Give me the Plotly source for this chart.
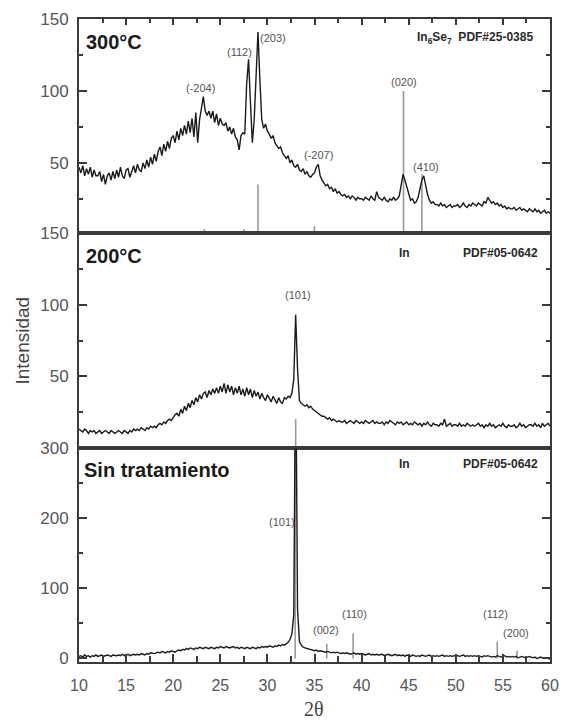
import numpy as np
import plotly.graph_objects as go

# 2-theta sampling grid: 10.0 .. 60.0 step 0.2
two_theta = [round(10 + 0.2 * i, 1) for i in range(251)]

# 300 °C pattern
y_300 = [
    47, 43, 48, 41, 46, 42, 47, 40, 45, 41,
    41, 44, 37, 42, 35, 41, 43, 38, 44, 39,
    45, 40, 47, 41, 39, 45, 46, 40, 44, 48,
    43, 49, 45, 44, 50, 46, 52, 47, 54, 49,
    56, 51, 58, 61, 55, 63, 58, 65, 60, 67,
    69, 64, 72, 66, 74, 69, 76, 70, 79, 71,
    81, 68, 85, 64, 80, 88, 96, 86, 83, 86,
    81, 86, 78, 84, 76, 81, 77, 76, 78, 72,
    75, 70, 74, 68, 66, 59, 69, 71, 70, 105,
    122, 92, 64, 80, 118, 141, 108, 80, 74, 77,
    72, 70, 67, 69, 64, 62, 60, 61, 57, 55,
    53, 55, 50, 52, 48, 47, 49, 45, 44, 46,
    42, 44, 41, 40, 42, 43, 47, 49, 41, 38,
    36, 34, 35, 32, 33, 30, 32, 29, 30, 28,
    27, 28, 26, 27, 25, 27, 26, 24, 26, 25,
    25, 24, 26, 25, 24, 27, 25, 24, 30, 26,
    25, 24, 26, 24, 23, 25, 24, 26, 24, 25,
    27, 34, 42, 38, 33, 28, 24, 25, 22, 23,
    26, 32, 38, 41, 34, 28, 24, 22, 23, 21,
    21, 20, 22, 20, 21, 19, 20, 21, 19, 20,
    20, 21, 19, 20, 22, 20, 19, 21, 20, 22,
    21, 20, 22, 21, 20, 23, 22, 26, 24, 22,
    23, 21, 22, 20, 21, 19, 20, 18, 19, 18,
    18, 19, 17, 18, 19, 17, 18, 17, 16, 18,
    17, 16, 18, 16, 17, 15, 16, 17, 15, 16,
    15,
]

# 200 °C pattern
y_200 = [
    13, 12, 11, 13, 12, 10, 12, 11, 12, 10,
    11, 12, 10, 11, 12, 11, 10, 12, 11, 10,
    11, 12, 11, 10, 12, 11, 10, 12, 11, 13,
    12, 13, 12, 14, 13, 12, 14, 13, 15, 14,
    15, 14, 16, 17, 16, 18, 17, 19, 20, 19,
    21, 23, 24, 22, 27, 24, 29, 26, 31, 28,
    33, 30, 35, 32, 37, 34, 38, 39, 35, 40,
    37, 41, 38, 42, 38, 43, 39, 45, 38, 44,
    39, 43, 37, 42, 38, 43, 37, 41, 36, 42,
    37, 41, 35, 40, 36, 39, 34, 38, 35, 33,
    37, 34, 32, 36, 33, 31, 35, 32, 31, 35,
    34, 36, 35, 38, 48, 93, 55, 33, 31, 30,
    29, 30, 28, 29, 27, 26, 25, 24, 23, 22,
    22, 21, 20, 21, 19, 20, 19, 18, 19, 18,
    18, 19, 17, 18, 19, 18, 17, 19, 18, 17,
    18, 17, 19, 18, 17, 18, 19, 17, 18, 17,
    17, 18, 16, 18, 17, 19, 18, 17, 16, 18,
    17, 18, 16, 17, 18, 16, 17, 16, 18, 17,
    16, 17, 15, 17, 16, 18, 16, 15, 17, 16,
    16, 15, 17, 16, 20, 15, 16, 17, 15, 16,
    16, 15, 17, 15, 16, 15, 17, 16, 15, 16,
    15, 16, 17, 15, 16, 14, 16, 15, 17, 15,
    16, 14, 15, 16, 15, 17, 15, 14, 16, 15,
    15, 16, 14, 15, 17, 15, 16, 14, 15, 16,
    16, 15, 17, 15, 16, 14, 17, 15, 16, 17,
    15,
]

# untreated pattern
y_sin = [
    3, 4, 2, 5, 3, 4, 2, 4, 3, 5,
    3, 4, 5, 3, 4, 5, 4, 3, 5, 4,
    4, 5, 4, 6, 4, 5, 6, 4, 5, 6,
    5, 6, 5, 7, 6, 5, 7, 6, 8, 7,
    7, 8, 9, 8, 10, 9, 8, 10, 9, 11,
    10, 9, 11, 12, 11, 13, 12, 14, 13, 15,
    14, 13, 15, 14, 16, 15, 14, 16, 15, 14,
    16, 15, 14, 16, 15, 17, 16, 15, 17, 16,
    15, 16, 17, 15, 16, 14, 16, 15, 14, 16,
    15, 14, 16, 15, 14, 16, 15, 17, 16, 17,
    16, 18, 17, 16, 18, 17, 19, 18, 20, 19,
    21, 23, 27, 35, 62, 450, 70, 24, 19, 16,
    15, 14, 13, 12, 12, 11, 12, 10, 11, 10,
    10, 9, 10, 9, 8, 9, 8, 9, 8, 7,
    8, 7, 8, 7, 6, 7, 8, 6, 7, 6,
    7, 6, 5, 6, 7, 5, 6, 5, 6, 5,
    5, 6, 4, 5, 6, 5, 4, 5, 6, 4,
    5, 4, 5, 3, 5, 4, 3, 5, 4, 3,
    4, 3, 5, 4, 3, 4, 5, 3, 4, 3,
    4, 3, 4, 5, 3, 4, 3, 4, 3, 4,
    3, 4, 3, 4, 5, 3, 4, 3, 4, 3,
    4, 3, 4, 3, 2, 4, 3, 4, 3, 2,
    3, 2, 4, 3, 2, 3, 4, 2, 3, 2,
    3, 2, 3, 1, 2, 3, 2, 1, 2, 3,
    2, 1, 2, 0, 1, 2, 1, 0, 1, 0,
    -1,
]

# reference (PDF) sticks
stick_300_pos = [23.3, 27.5, 29.0, 35.0, 44.45, 46.4]
stick_300_h = [4, 4, 35, 6, 100, 42]
stick_200_pos = [33.0]
stick_200_h = [20]
stick_sin_pos = [32.95, 36.3, 39.1, 54.4, 56.5]
stick_sin_h = [330, 21, 36, 24, 11]

# peak labels
lab_300_text = ["(-204)", "(112)", "(203)", "(-207)", "(020)", "(410)"]
lab_300_x = [22.9, 27.0, 30.6, 35.4, 44.45, 46.8]
lab_300_y = [102, 127, 137, 55.5, 106, 47]
lab_200_text = ["(101)"]
lab_200_x = [33.25]
lab_200_y = [107]
lab_sin_text = ["(101)", "(002)", "(110)", "(112)", "(200)"]
lab_sin_x = [31.6, 36.2, 39.2, 54.2, 56.4]
lab_sin_y = [194, 41, 63, 63, 36]

LINE = "#1a1a1a"
STICK = "#9a9a9a"
FRAME = "#3a3a3a"
TICKC = "#555555"
FONT = "Liberation Sans, Arial, sans-serif"

W_FIG, H_FIG = 561, 721
M_L, M_R, M_T, M_B = 79, 11, 19, 59
PW = W_FIG - M_L - M_R
PH = H_FIG - M_T - M_B


def sticks(pos, h):
    xs, ys = [], []
    for p, v in zip(pos, h):
        xs += [p, p, None]
        ys += [0, v, None]
    return xs, ys


fig = go.Figure()
panels = [("x", "y", y_300, stick_300_pos, stick_300_h),
          ("x2", "y2", y_200, stick_200_pos, stick_200_h),
          ("x3", "y3", y_sin, stick_sin_pos, stick_sin_h)]
for xa, ya, yv, sp, sh in panels:
    sx, sy = sticks(sp, sh)
    fig.add_trace(go.Scatter(x=sx, y=sy, mode="lines", xaxis=xa, yaxis=ya,
                             line=dict(color=STICK, width=1.6), showlegend=False,
                             hoverinfo="skip"))
    fig.add_trace(go.Scatter(x=two_theta, y=yv, mode="lines", xaxis=xa, yaxis=ya,
                             line=dict(color=LINE, width=1.4), showlegend=False))

common_x = dict(range=[10, 60], showgrid=False, zeroline=False, showline=True,
                linecolor=FRAME, linewidth=2, mirror=True)
common_y = dict(showgrid=False, zeroline=False, showline=True, linecolor=FRAME,
                linewidth=2, mirror="allticks", ticks="inside", ticklen=8,
                tickwidth=1.5, tickcolor=FRAME, ticklabelstandoff=5,
                tickfont=dict(family=FONT, size=17, color=TICKC))

fig.update_layout(
    width=W_FIG, height=H_FIG,
    margin=dict(l=M_L, r=M_R, t=M_T, b=M_B, autoexpand=False),
    paper_bgcolor="white", plot_bgcolor="white",
    xaxis=dict(**common_x, domain=[0, 1], anchor="y", side="top", ticks="inside",
               dtick=5, tick0=10, ticklen=6, tickwidth=1.5, tickcolor=FRAME,
               showticklabels=False,
               minor=dict(dtick=2.5, ticks="inside", ticklen=4, tickcolor=FRAME)),
    xaxis2=dict(**common_x, domain=[0, 1], anchor="y2", ticks="", showticklabels=False),
    xaxis3=dict(**common_x, domain=[0, 1], anchor="y3", ticks="inside", dtick=5,
                tick0=10, ticklen=8, tickwidth=1.5, tickcolor=FRAME,
                ticklabelstandoff=8, ticklabeloverflow="allow",
                tickfont=dict(family=FONT, size=16, color=TICKC),
                minor=dict(dtick=2.5, ticks="inside", ticklen=6, tickcolor=FRAME)),
    yaxis=dict(**common_y, domain=[2 / 3, 1], anchor="x", range=[1, 150],
               tickmode="array", tickvals=[50, 100, 150],
               minor=dict(tickmode="array", tickvals=[25, 75, 125], ticks="inside",
                          ticklen=4, tickcolor=FRAME)),
    yaxis2=dict(**common_y, domain=[1 / 3, 2 / 3], anchor="x2", range=[0, 150],
                tickmode="array", tickvals=[50, 100, 150],
                minor=dict(tickmode="array", tickvals=[25, 75, 125], ticks="inside",
                           ticklen=4, tickcolor=FRAME)),
    yaxis3=dict(**common_y, domain=[0, 1 / 3], anchor="x3", range=[-5, 300],
                tickmode="array", tickvals=[0, 100, 200, 300],
                minor=dict(tickmode="array", tickvals=[50, 150, 250], ticks="inside",
                           ticklen=4, tickcolor=FRAME)),
)

ann = []
# peak labels
for txts, xs, ys, xr, yr in [(lab_300_text, lab_300_x, lab_300_y, "x", "y"),
                             (lab_200_text, lab_200_x, lab_200_y, "x2", "y2"),
                             (lab_sin_text, lab_sin_x, lab_sin_y, "x3", "y3")]:
    for t, xv, yv in zip(txts, xs, ys):
        ann.append(dict(text=t, x=xv, y=yv, xref=xr, yref=yr, showarrow=False,
                        font=dict(family=FONT, size=11, color="#555555")))

# panel titles
big = dict(family=FONT, size=20, color="#1a1a1a")
small = dict(family=FONT, size=12, color="#2a2a2a")
ann += [
    dict(text="<b>300°C</b>", x=0.010, y=0.893, xref="x domain", yref="y domain",
         xanchor="left", yanchor="middle", showarrow=False, font=big),
    dict(text="<b>In<sub>6</sub>Se<sub>7</sub>  PDF#25-0385</b>", x=0.968, y=0.91,
         xref="x domain", yref="y domain", xanchor="right", yanchor="middle",
         showarrow=False, font=small),
    dict(text="<b>200°C</b>", x=0.010, y=0.893, xref="x2 domain", yref="y2 domain",
         xanchor="left", yanchor="middle", showarrow=False, font=big),
    dict(text="<b>In</b>", x=0.675, y=0.907, xref="x2 domain", yref="y2 domain",
         xanchor="left", yanchor="middle", showarrow=False, font=small),
    dict(text="<b>PDF#05-0642</b>", x=0.978, y=0.907, xref="x2 domain",
         yref="y2 domain", xanchor="right", yanchor="middle", showarrow=False,
         font=small),
    dict(text="<b>Sin tratamiento</b>", x=0.006, y=0.897, xref="x3 domain",
         yref="y3 domain", xanchor="left", yanchor="middle", showarrow=False, font=big),
    dict(text="<b>In</b>", x=0.675, y=0.925, xref="x3 domain", yref="y3 domain",
         xanchor="left", yanchor="middle", showarrow=False, font=small),
    dict(text="<b>PDF#05-0642</b>", x=0.978, y=0.925, xref="x3 domain",
         yref="y3 domain", xanchor="right", yanchor="middle", showarrow=False,
         font=small),
    # axis titles (positions given in pixels, converted to paper)
    dict(text="Intensidad", x=(22 - M_L) / PW, y=0.5, xref="paper", yref="paper",
         xanchor="center", yanchor="middle", textangle=-90, showarrow=False,
         font=dict(family=FONT, size=19, color="#444444")),
    dict(text="2θ", x=(314 - M_L) / PW, y=(H_FIG - M_B - 709) / PH, xref="paper",
         yref="paper", xanchor="center", yanchor="middle", showarrow=False,
         font=dict(family="Liberation Serif, Times New Roman, serif", size=20,
                   color="#444444")),
]
fig.update_layout(annotations=ann)

fig.write_html("out.html",
               config={"displayModeBar": False},
               post_script="document.body.style.margin='0px';"
                           "document.body.style.overflow='hidden';")
